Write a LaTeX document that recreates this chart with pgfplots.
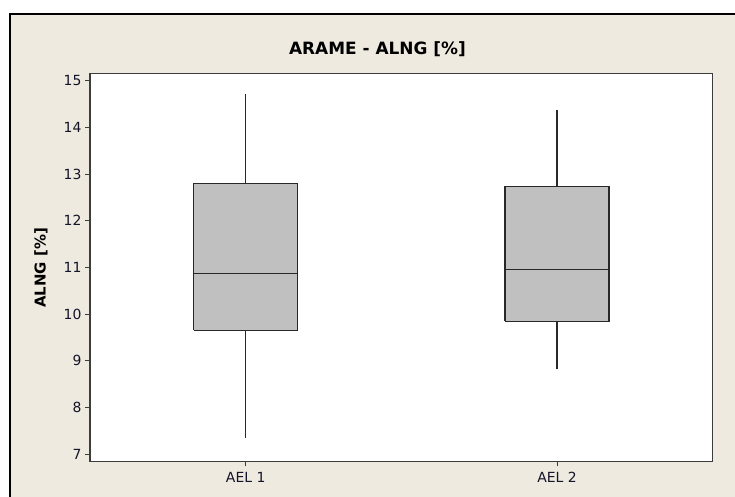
\documentclass[border=0pt]{standalone}
\usepackage{fontspec}
\setmainfont{DejaVu Sans}
\usepackage{pgfplots}
\pgfplotsset{compat=1.18}
\definecolor{panelbg}{RGB}{238,234,224}
\definecolor{boxfill}{RGB}{192,192,192}
\definecolor{axisline}{RGB}{60,60,60}
\definecolor{labeltext}{RGB}{20,20,40}
\definecolor{boxline}{RGB}{40,40,40}

\begin{document}
\begin{tikzpicture}[boxpart/.style={draw=boxline, line width=1.1bp, mark=none, solid}]
\useasboundingbox (0bp,0bp) rectangle (735bp,497bp);
% panel background with frame
\fill[panelbg] (10bp,483bp) rectangle (760bp,-20bp);
\draw[black, line width=1.2bp] (10bp,-20bp) -- (10bp,483bp) -- (760bp,483bp);
% white plotting area
\fill[white] (90bp,35.5bp) rectangle (712.7bp,423.7bp);

\begin{axis}[
  at={(90bp,35.5bp)}, anchor=south west,
  scale only axis, width=622.7bp, height=388.2bp,
  xmin=0.5, xmax=2.5, ymin=6.846, ymax=15.158,
  axis line style={axisline, line width=1.4bp},
  tick style={axisline, line width=1bp},
  tick align=outside, major tick length=5bp,
  xtick pos=left, ytick pos=left,
  xtick={1,2}, xticklabels={AEL 1, AEL 2},
  ytick={7,8,...,15},
  /pgf/number format/assume math mode=true,
  tick label style={font=\fontsize{14}{16}\selectfont, text=labeltext},
  xticklabel style={yshift=-2bp},
]
% AEL 1: lower whisker 7.34, Q1 9.655, median 10.87, Q3 12.79, upper whisker 14.72
\addplot[boxpart] coordinates {(1,7.34) (1,9.655)};
\addplot[boxpart] coordinates {(1,12.79) (1,14.72)};
\addplot[boxpart, fill=boxfill] coordinates {(0.833,9.655) (1.167,9.655) (1.167,12.79) (0.833,12.79) (0.833,9.655)};
\addplot[boxpart] coordinates {(0.833,10.87) (1.167,10.87)};
% AEL 2: lower whisker 8.82, Q1 9.85, median 10.96, Q3 12.74, upper whisker 14.37
\addplot[boxpart] coordinates {(2,8.82) (2,9.85)};
\addplot[boxpart] coordinates {(2,12.74) (2,14.37)};
\addplot[boxpart, fill=boxfill] coordinates {(1.833,9.85) (2.167,9.85) (2.167,12.74) (1.833,12.74) (1.833,9.85)};
\addplot[boxpart] coordinates {(1.833,10.96) (2.167,10.96)};
\end{axis}

\node[font=\bfseries\fontsize{17}{19}\selectfont, text=black] at (377.5bp,448bp) {ARAME - ALNG [\%]};
\node[font=\bfseries\fontsize{15}{17}\selectfont, text=black, rotate=90] at (41bp,229bp) {ALNG [\%]};
\end{tikzpicture}
\end{document}
